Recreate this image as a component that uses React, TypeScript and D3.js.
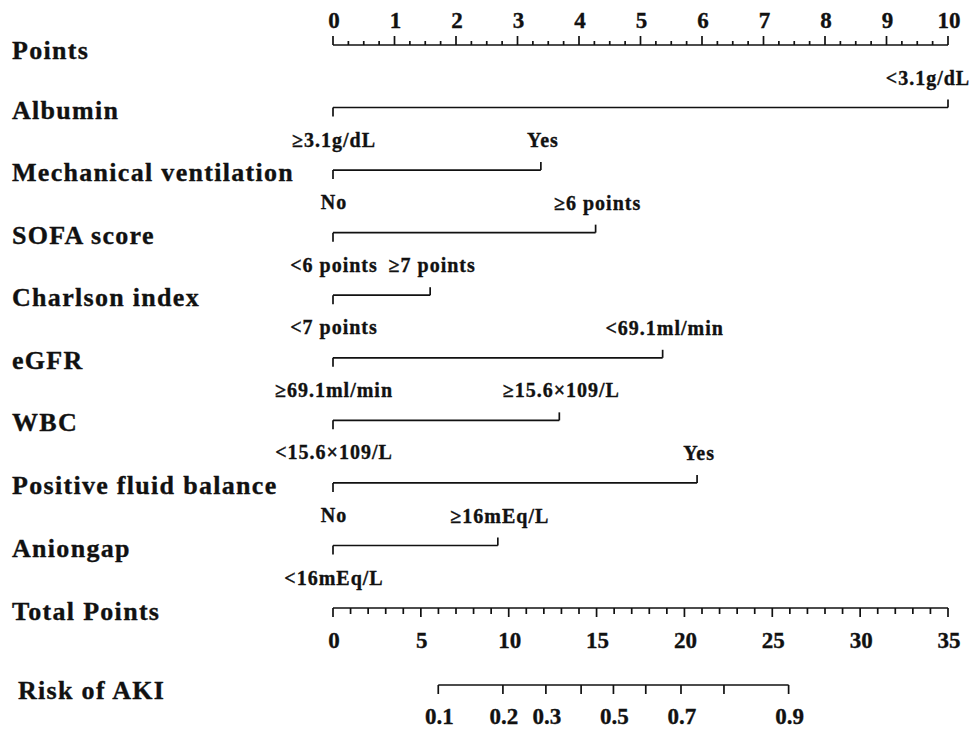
import React from "react";
import * as d3 from "d3";

const variables = [
  "Albumin",
  "Mechanical ventilation",
  "SOFA score",
  "Charlson index",
  "eGFR",
  "WBC",
  "Positive fluid balance",
  "Aniongap",
];
const lowLabels = ["≥3.1g/dL", "No", "<6 points", "<7 points", "≥69.1ml/min", "<15.6×109/L", "No", "<16mEq/L"];
const highLabels = ["<3.1g/dL", "Yes", "≥6 points", "≥7 points", "<69.1ml/min", "≥15.6×109/L", "Yes", "≥16mEq/L"];
const highPoints = [10, 3.38, 4.27, 1.58, 5.36, 3.68, 5.92, 2.68];

const pointTicks = d3.range(0, 11, 1);
const pointMinorTicks = d3.range(0, 10.01, 0.25);
const totalTicks = d3.range(0, 36, 5);
const totalMinorTicks = d3.range(0, 36, 1);
const riskTicks = [0.1, 0.2, 0.3, 0.4, 0.5, 0.6, 0.7, 0.8, 0.9];
const riskLabels = [0.1, 0.2, 0.3, 0.5, 0.7, 0.9];
// logistic model: logit(p) = slope * (total - center)
const riskCenter = 15.96;
const riskSlope = 0.2204;

const W = 973;
const H = 729;
const X0 = 333;
const X1 = 948;
const FONT = "'Liberation Serif', 'Times New Roman', serif";
const INK = "#111";

export default function App() {
  const xPts = d3.scaleLinear().domain([0, 10]).range([X0, X1]);
  const xTot = d3.scaleLinear().domain([0, 35]).range([X0, X1]);
  const riskToTotal = (p: number) => riskCenter + Math.log(p / (1 - p)) / riskSlope;

  const axisY = 45;
  const rowY = d3.scaleLinear().domain([0, 7]).range([107.5, 545.5]);
  const totalY = 608;
  const riskY = 685;

  const heavy = { stroke: INK, strokeWidth: 0.35 };
  const nameStyle: React.CSSProperties = { fontFamily: FONT, fontWeight: 700, fontSize: 26, letterSpacing: 1.3, ...heavy };
  const levelStyle: React.CSSProperties = { fontFamily: FONT, fontWeight: 700, fontSize: 20, letterSpacing: 1, ...heavy };
  const tickStyle: React.CSSProperties = { fontFamily: FONT, fontWeight: 700, fontSize: 23, ...heavy };
  const riskStyle: React.CSSProperties = { fontFamily: FONT, fontWeight: 700, fontSize: 23, ...heavy };

  return (
    <svg width={W} height={H} style={{ position: "absolute", left: 0, top: 0, background: "#fff" }}>
      <rect width={W} height={H} fill="#fff" />
      <g stroke={INK} strokeWidth={1.7} fill="none">
        {/* Points axis */}
        <line x1={X0} x2={X1} y1={axisY} y2={axisY} />
        {pointMinorTicks.map((t) => (
          <line key={"pm" + t} x1={xPts(t)} x2={xPts(t)} y1={axisY} y2={axisY - (Number.isInteger(t) ? 9 : 4)} />
        ))}
        {/* Variable lines */}
        {variables.map((v, i) => {
          const y = rowY(i);
          const xe = xPts(highPoints[i]);
          return (
            <g key={v}>
              <line x1={xPts(0)} x2={xe} y1={y} y2={y} />
              <line x1={xPts(0)} x2={xPts(0)} y1={y} y2={y + 9} />
              <line x1={xe} x2={xe} y1={y} y2={y - 8} />
            </g>
          );
        })}
        {/* Total points axis */}
        <line x1={X0} x2={X1} y1={totalY} y2={totalY} />
        {totalMinorTicks.map((t) => (
          <line key={"tm" + t} x1={xTot(t)} x2={xTot(t)} y1={totalY} y2={totalY + (t % 5 === 0 ? 9 : 6)} />
        ))}
        {/* Risk axis */}
        <line x1={xTot(riskToTotal(0.1))} x2={xTot(riskToTotal(0.9))} y1={riskY} y2={riskY} />
        {riskTicks.map((p) => (
          <line key={"r" + p} x1={xTot(riskToTotal(p))} x2={xTot(riskToTotal(p))} y1={riskY} y2={riskY + 9} />
        ))}
      </g>
      <g fill={INK}>
        <text x={12} y={59} style={nameStyle}>Points</text>
        {pointTicks.map((t) => (
          <text key={"pt" + t} x={xPts(t) + 1} y={28} textAnchor="middle" style={tickStyle}>{t}</text>
        ))}
        {variables.map((v, i) => {
          const y = rowY(i);
          const xe = xPts(highPoints[i]);
          const hx = Math.min(xe + 2, W - 45);
          return (
            <g key={"t" + v}>
              <text x={12} y={y + 11} style={nameStyle}>{v}</text>
              <text x={hx} y={y - 23} textAnchor="middle" style={levelStyle}>{highLabels[i]}</text>
              <text x={xPts(0) + 1} y={y + 39} textAnchor="middle" style={levelStyle}>{lowLabels[i]}</text>
            </g>
          );
        })}
        <text x={12} y={620} style={nameStyle}>Total Points</text>
        {totalTicks.map((t) => (
          <text key={"tt" + t} x={xTot(t) + 1} y={648} textAnchor="middle" style={tickStyle}>{t}</text>
        ))}
        <text x={18} y={699} style={nameStyle}>Risk of AKI</text>
        {riskLabels.map((p) => (
          <text key={"rl" + p} x={xTot(riskToTotal(p)) + 1} y={724} textAnchor="middle" style={riskStyle}>{p}</text>
        ))}
      </g>
    </svg>
  );
}
